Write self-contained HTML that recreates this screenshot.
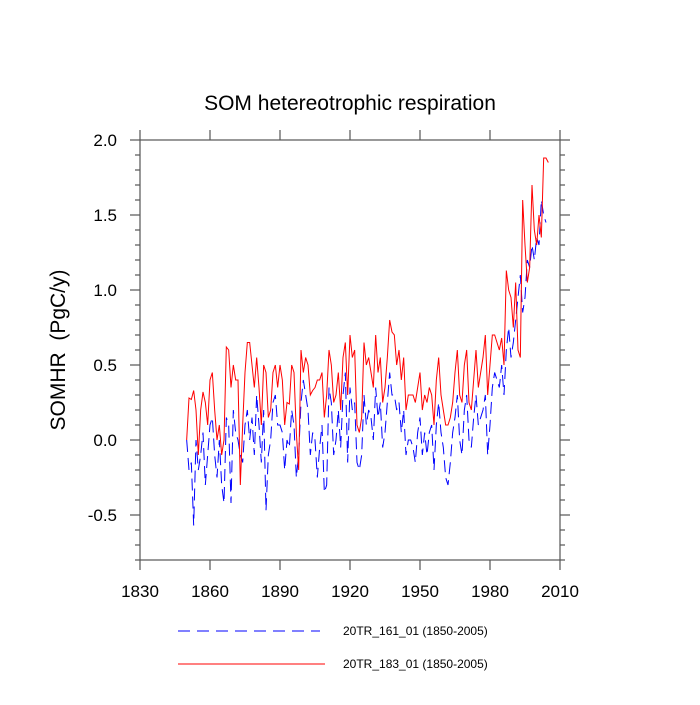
<!DOCTYPE html>
<html><head><meta charset="utf-8"><style>
body{margin:0;background:#fff;}
svg text{font-family:"Liberation Sans",sans-serif;}
</style></head><body>
<svg id="chart" width="700" height="700" viewBox="0 0 700 700"></svg>
<script>
const years=[];for(let y=1850;y<=2005;y++)years.push(y);
const redValues=[0.0,0.28,0.27,0.33,0.2,-0.1,0.2,0.32,0.25,0.1,0.4,0.45,0.2,0.0,0.1,-0.1,0.0,0.62,0.6,0.35,0.5,0.4,0.4,-0.3,0.1,0.45,0.65,0.65,0.5,0.35,0.55,0.35,0.1,0.5,0.45,0.15,0.2,0.45,0.5,0.35,0.5,0.4,0.1,0.25,0.24,0.5,0.45,0.05,-0.2,0.6,0.45,0.55,0.5,0.3,0.33,0.35,0.4,0.4,0.45,0.15,0.3,0.6,0.5,0.25,0.3,0.45,0.2,0.55,0.65,0.3,0.7,0.55,0.6,0.1,0.05,0.15,0.65,0.5,0.55,0.45,0.35,0.7,0.45,0.55,0.25,0.35,0.55,0.8,0.72,0.7,0.5,0.6,0.4,0.55,0.2,0.3,0.3,0.3,0.25,0.35,0.45,0.2,0.3,0.25,0.35,0.3,0.1,0.4,0.55,0.3,0.2,0.1,0.1,0.15,0.25,0.45,0.6,0.3,0.25,0.5,0.6,0.25,0.2,0.4,0.6,0.35,0.45,0.55,0.7,0.3,0.5,0.7,0.7,0.65,0.6,0.68,0.5,1.13,1.0,0.95,0.75,1.05,0.6,0.55,1.6,1.3,1.05,1.15,1.7,1.4,1.3,1.5,1.35,1.88,1.88,1.85];
const blueValues=[0.0,-0.2,-0.15,-0.57,0.0,-0.2,-0.1,0.05,-0.3,-0.1,0.1,0.15,-0.1,-0.25,0.0,-0.3,-0.42,0.15,0.1,-0.42,0.2,0.05,0.0,-0.1,-0.15,0.1,0.2,0.0,0.15,-0.1,0.3,0.1,-0.15,0.2,-0.47,-0.1,0.0,0.25,0.3,0.1,0.1,0.05,-0.2,0.0,-0.05,0.2,0.1,-0.25,-0.1,0.25,0.4,0.3,0.2,-0.1,0.05,0.0,-0.25,-0.05,0.1,-0.35,-0.3,0.35,0.25,-0.1,0.0,0.2,-0.05,0.3,0.45,-0.15,0.35,0.2,0.25,-0.15,-0.2,-0.1,0.3,0.1,0.2,0.15,0.0,0.35,0.15,0.25,-0.05,0.05,0.25,0.45,0.3,0.3,0.2,0.25,0.05,0.2,-0.1,0.0,0.0,-0.05,-0.15,0.05,0.15,-0.1,0.05,-0.1,0.05,0.1,-0.2,0.1,0.25,0.05,-0.05,-0.25,-0.3,-0.15,0.05,0.15,0.3,0.0,-0.1,0.2,0.3,0.0,-0.05,0.15,0.3,0.1,0.15,0.2,0.3,-0.1,0.1,0.35,0.45,0.4,0.35,0.5,0.3,0.6,0.75,0.55,0.65,0.8,0.95,1.1,0.85,0.95,1.2,1.15,1.3,1.2,1.35,1.3,1.6,1.5,1.45];
const xTicks=[1830,1860,1890,1920,1950,1980,2010];
const yTicks=[-0.5,0.0,0.5,1.0,1.5,2.0];
const yTickLabels=["-0.5","0.0","0.5","1.0","1.5","2.0"];
const L=140,R=560,T=140,B=560,X0=1830,X1=2010,Y0=-0.8,Y1=2.0;
const sx=v=>L+(v-X0)/(X1-X0)*(R-L);
const sy=v=>B-(v-Y0)/(Y1-Y0)*(B-T);
const svg=document.getElementById('chart');
const NS='http://www.w3.org/2000/svg';
function mk(tag,attrs,parent){const e=document.createElementNS(NS,tag);for(const k in attrs)e.setAttribute(k,attrs[k]);(parent||svg).appendChild(e);return e;}
let e;
e=mk('text',{x:350,y:110,'text-anchor':'middle','font-size':21,fill:'#000'});e.textContent='SOM hetereotrophic respiration';


e=mk('text',{x:0,y:0,'text-anchor':'middle','font-size':21,fill:'#000',transform:'translate(65,350) rotate(-90)'});e.textContent='SOMHR\u00a0\u00a0(PgC/y)';


const ax=mk('g',{stroke:'#555','stroke-width':1.2,fill:'none'});


mk('rect',{x:L,y:T,width:R-L,height:B-T},ax);
xTicks.forEach(t=>{const x=sx(t);mk('line',{x1:x,y1:B,x2:x,y2:B+10},ax);mk('line',{x1:x,y1:T,x2:x,y2:T-10},ax);
 const tx=mk('text',{x:x,y:B+37,'text-anchor':'middle','font-size':17,fill:'#000',stroke:'none'});tx.textContent=t;
 
 });
for(let v=-0.8;v<=2.0001;v+=0.1){const y=sy(v);const major=Math.abs(v*2-Math.round(v*2))<1e-6;const len=major?10:5;
 mk('line',{x1:L,y1:y,x2:L-len,y2:y},ax);mk('line',{x1:R,y1:y,x2:R+len,y2:y},ax);}
yTicks.forEach((t,i)=>{const tx=mk('text',{x:117,y:sy(t)+6,'text-anchor':'end','font-size':17,fill:'#000',stroke:'none'});tx.textContent=yTickLabels[i];
 
 });
function line(vals,color,dash,name){const p=vals.map((v,i)=>(i?'L':'M')+sx(years[i]).toFixed(2)+','+sy(v).toFixed(2)).join('');
 const el=mk('path',{d:p,stroke:color,'stroke-width':1,fill:'none'});if(dash)el.setAttribute('stroke-dasharray',dash);
 
 }
line(blueValues,'#0000ff','12,6','series-20tr-161');
line(redValues,'#ff0000',null,'series-20tr-183');
const lg=mk('g',{});


mk('line',{x1:178,y1:631,x2:320,y2:631,stroke:'#0000ff','stroke-width':1,'stroke-dasharray':'12,7'},lg);
e=mk('text',{x:343,y:635,'font-size':12,fill:'#000'},lg);e.textContent='20TR_161_01 (1850-2005)';


mk('line',{x1:178,y1:664,x2:325,y2:664,stroke:'#ff0000','stroke-width':1},lg);
e=mk('text',{x:343,y:668,'font-size':12,fill:'#000'},lg);e.textContent='20TR_183_01 (1850-2005)';


</script>
</body></html>
